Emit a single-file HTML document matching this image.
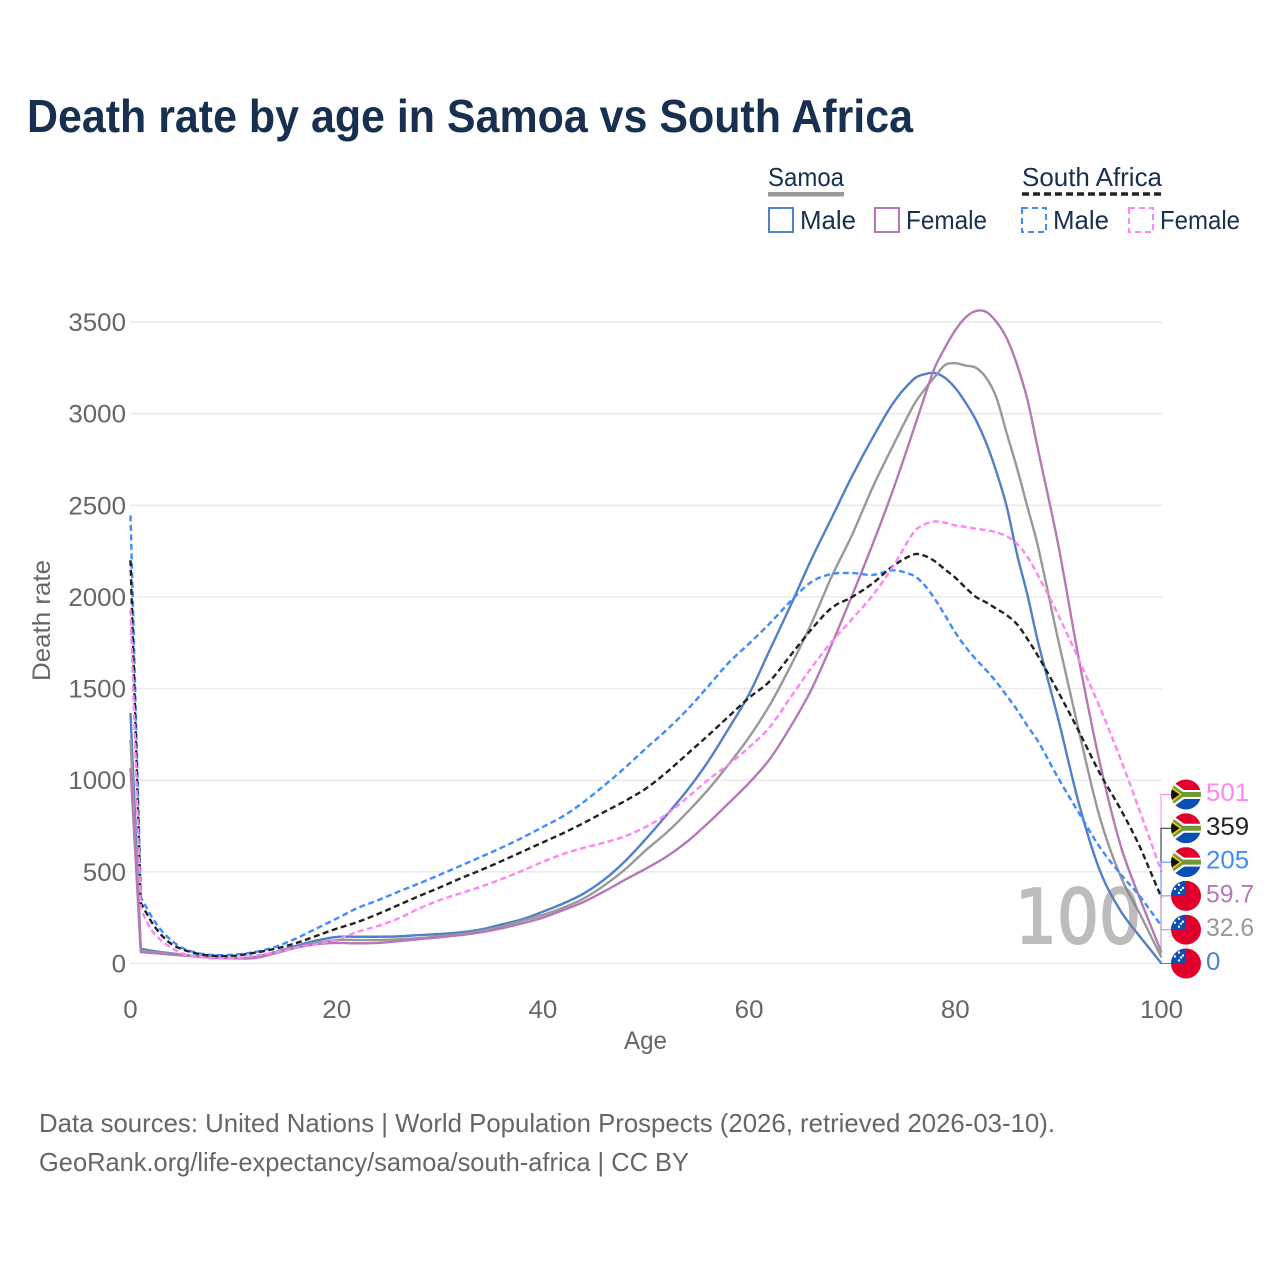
<!DOCTYPE html>
<html lang="en">
<head>
<meta charset="utf-8">
<title>Death rate by age in Samoa vs South Africa</title>
<style>
html,body{margin:0;padding:0;background:#fff;}
svg{display:block;font-family:"Liberation Sans",sans-serif;}
</style>
</head>
<body>
<svg id="chart" xmlns="http://www.w3.org/2000/svg" width="1280" height="1280" viewBox="0 0 1280 1280">
  <defs>
    <clipPath id="flag-clip"><circle cx="0" cy="0" r="15"/></clipPath>
  </defs>
  <rect width="1280" height="1280" fill="#fff"/>
  <text x="27" y="132" font-size="46" font-weight="700" fill="#17304f" textLength="886" lengthAdjust="spacingAndGlyphs">Death rate by age in Samoa vs South Africa</text>

  <g font-size="26" fill="#17304f">
    <text x="768" y="186" textLength="76" lengthAdjust="spacingAndGlyphs">Samoa</text>
    <rect x="768" y="192" width="76" height="4.5" fill="#999"/>
    <text x="1022" y="186" textLength="140" lengthAdjust="spacingAndGlyphs">South Africa</text>
    <line x1="1022" y1="194" x2="1162" y2="194" stroke="#222" stroke-width="3.5" stroke-dasharray="7 4"/>
    <rect x="769" y="208" width="24" height="24" fill="none" stroke="#5080c8" stroke-width="2"/>
    <text x="800" y="229" textLength="56" lengthAdjust="spacingAndGlyphs">Male</text>
    <rect x="875" y="208" width="24" height="24" fill="none" stroke="#b57ab5" stroke-width="2"/>
    <text x="906" y="229" textLength="81" lengthAdjust="spacingAndGlyphs">Female</text>
    <rect x="1022" y="208" width="24" height="24" fill="none" stroke="#3f8cff" stroke-width="2" stroke-dasharray="6 4"/>
    <text x="1053" y="229" textLength="56" lengthAdjust="spacingAndGlyphs">Male</text>
    <rect x="1129" y="208" width="24" height="24" fill="none" stroke="#ff85f5" stroke-width="2" stroke-dasharray="6 4"/>
    <text x="1160" y="229" textLength="80" lengthAdjust="spacingAndGlyphs">Female</text>
  </g>

  <g id="grid"></g>
  <g id="y-ticks"></g>
  <g id="x-ticks"></g>
  <text transform="translate(50,620.5) rotate(-90)" text-anchor="middle" font-size="25" fill="#666" textLength="121" lengthAdjust="spacingAndGlyphs">Death rate</text>
  <text x="645.5" y="1049" text-anchor="middle" font-size="25" fill="#666" textLength="43" lengthAdjust="spacingAndGlyphs">Age</text>

  <g id="series"></g>
  <g id="connectors"></g>
  <text x="1015" y="943" font-family="'DejaVu Sans',sans-serif" font-size="75" fill="#808080" stroke="#808080" stroke-width="2" opacity="0.52" textLength="126" lengthAdjust="spacingAndGlyphs">100</text>
  <g id="end-labels"></g>

  <g font-size="26" fill="#666">
    <text x="39" y="1132" textLength="1016" lengthAdjust="spacingAndGlyphs">Data sources: United Nations | World Population Prospects (2026, retrieved 2026-03-10).</text>
    <text x="39" y="1171" textLength="650" lengthAdjust="spacingAndGlyphs">GeoRank.org/life-expectancy/samoa/south-africa | CC BY</text>
  </g>
</svg>

<script>
const ages = [0,1,2,3,4,5,6,7,8,10,12,14,16,18,20,22,24,26,28,30,32,34,36,38,40,42,44,46,48,50,52,54,56,58,60,62,64,66,68,70,72,74,76,77,78,79,80,81,82,83,84,85,86,87,88,90,92,94,96,98,100];
const samoaMale = [1367,80,70,62,55,48,42,37,33,30,36,62,95,125,145,146,146,148,155,161,170,186,213,241,283,328,383,460,560,680,810,945,1100,1280,1470,1710,1950,2200,2430,2660,2870,3060,3190,3215,3222,3195,3140,3060,2965,2840,2680,2490,2230,2010,1760,1330,870,510,290,140,0];
const samoaBoth = [1220,70,63,58,52,46,40,36,32,29,33,58,88,112,128,128,128,132,138,148,160,178,201,233,265,305,356,428,515,619,714,825,947,1085,1235,1410,1620,1850,2110,2340,2600,2830,3050,3130,3200,3265,3275,3262,3250,3195,3085,2890,2700,2490,2280,1760,1265,800,480,260,32.6];
const samoaFemale = [1067,62,58,53,48,44,40,36,32,28,30,55,85,105,112,110,112,122,133,143,155,170,192,219,250,292,337,395,458,518,583,665,765,874,985,1115,1290,1490,1740,2010,2290,2590,2920,3090,3250,3360,3455,3525,3560,3555,3500,3410,3265,3075,2810,2280,1655,1100,650,340,59.7];
const southAfricaMale = [2445,360,260,180,125,85,65,52,46,48,62,90,135,190,245,302,345,392,437,484,533,582,632,686,745,805,883,974,1070,1174,1274,1385,1510,1640,1745,1855,1975,2080,2125,2130,2120,2145,2115,2065,1990,1900,1805,1727,1660,1600,1535,1460,1383,1295,1215,1010,820,636,490,360,205];
const southAfricaBoth = [2200,330,230,155,105,78,60,48,42,42,58,80,110,150,190,226,270,319,368,415,464,510,559,610,661,712,768,828,888,955,1043,1143,1243,1347,1450,1540,1680,1820,1940,2000,2075,2170,2232,2225,2195,2150,2105,2050,2000,1970,1935,1900,1850,1770,1680,1480,1265,1040,845,625,359];
const southAfricaFemale = [1930,292,185,125,85,55,40,33,28,30,42,60,85,105,130,172,205,246,300,346,383,419,461,506,555,598,632,660,695,746,814,905,1001,1085,1180,1290,1450,1610,1755,1880,2010,2170,2355,2395,2412,2405,2390,2382,2372,2365,2352,2330,2290,2218,2120,1900,1655,1400,1120,815,501];
const yTicks = [0,500,1000,1500,2000,2500,3000,3500];
const xTicks = [0,20,40,60,80,100];
const seriesNames = ['samoa-male','samoa-both','samoa-female','south-africa-male','south-africa-both','south-africa-female'];
const endLabelText = ['501','359','205','59.7','32.6','0'];
const endLabelSeries = ['southAfricaFemale','southAfricaBoth','southAfricaMale','samoaFemale','samoaBoth','samoaMale'];

const NS = 'http://www.w3.org/2000/svg';
const xScale = age => 130.5 + age * 10.31;
const yScale = v => 963.5 - v * 0.18329;
function make(tag, parent, props) {
  const el = document.createElementNS(NS, tag);
  for (const k in props) el.setAttribute(k, props[k]);
  parent.appendChild(el);
  return el;
}

const gridG = document.getElementById('grid');
const yTickG = document.getElementById('y-ticks');
yTicks.forEach(t => {
  const line = make('line', gridG, {x1:130, x2:1162, y1:yScale(t), y2:yScale(t), stroke:'#e9e9e9', 'stroke-width':1.5});
  
  
  const label = make('text', yTickG, {x:126, y:yScale(t)+9, 'text-anchor':'end', 'font-size':25, fill:'#666', textLength:String(t).length*14.4, lengthAdjust:'spacingAndGlyphs'});
  
  
  label.textContent = t;
});
const xTickG = document.getElementById('x-ticks');
xTicks.forEach(t => {
  const label = make('text', xTickG, {x:xScale(t), y:1018, 'text-anchor':'middle', 'font-size':25, fill:'#666', textLength:String(t).length*14.4, lengthAdjust:'spacingAndGlyphs'});
  
  
  label.textContent = t;
});

function linePath(values) {
  const p = values.map((v, i) => [xScale(ages[i]), yScale(v)]);
  const slope = i => (p[i+1][1] - p[i-1][1]) / (p[i+1][0] - p[i-1][0]);
  let d = 'M' + p[0][0] + ' ' + p[0][1];
  for (let i = 0; i < p.length - 1; i++) {
    if (i < 2 || i >= p.length - 2) { d += 'L' + p[i+1][0] + ' ' + p[i+1][1]; continue; }
    const b = p[i], c = p[i+1], dx = (c[0] - b[0]) / 3;
    d += 'C' + (b[0]+dx) + ' ' + (b[1]+slope(i)*dx) + ' ' + (c[0]-dx) + ' ' + (c[1]-slope(i+1)*dx) + ' ' + c[0] + ' ' + c[1];
  }
  return d;
}

const seriesValues = {samoaMale, samoaBoth, samoaFemale, southAfricaMale, southAfricaBoth, southAfricaFemale};
const seriesKeys = ['samoaMale','samoaBoth','samoaFemale','southAfricaMale','southAfricaBoth','southAfricaFemale'];
const seriesColors = {samoaMale:'#5080c8', samoaBoth:'#999999', samoaFemale:'#b57ab5', southAfricaMale:'#3f8cff', southAfricaBoth:'#222222', southAfricaFemale:'#ff85f5'};
const seriesG = document.getElementById('series');
seriesKeys.forEach((key, i) => {
  const dashed = key.indexOf('southAfrica') === 0;
  const path = make('path', seriesG, {d:linePath(seriesValues[key]), fill:'none', stroke:seriesColors[key], 'stroke-width':2.4, 'stroke-linejoin':'round'});
  if (dashed) path.setAttribute('stroke-dasharray', '6 3.5');
  
  
});

function drawSouthAfricaFlag(g) {
  const c = make('g', g, {'clip-path':'url(#flag-clip)'});
  make('rect', c, {x:-15, y:-15, width:30, height:15, fill:'#e0002b'});
  make('rect', c, {x:-15, y:0, width:30, height:15, fill:'#0a4fb5'});
  make('path', c, {d:'M-15 -14L-2 -4.5H15V4.5H-2L-15 14Z', fill:'#fff'});
  make('path', c, {d:'M-15 -11L-3 -2.5H15V2.5H-3L-15 11Z', fill:'#6d9a34'});
  make('path', c, {d:'M-15 -8.5L-4 0L-15 8.5Z', fill:'#f5c518'});
  make('path', c, {d:'M-15 -6L-6.5 0L-15 6Z', fill:'#111'});
}
function drawSamoaFlag(g) {
  const c = make('g', g, {'clip-path':'url(#flag-clip)'});
  make('rect', c, {x:-15, y:-15, width:30, height:30, fill:'#e0002b'});
  make('rect', c, {x:-15, y:-15, width:15, height:15, fill:'#0a4fb5'});
  [[-7,-11],[-11,-7],[-3,-8],[-7,-3],[-5,-6]].forEach(s => make('circle', c, {cx:s[0], cy:s[1], r:1.2, fill:'#fff'}));
}

const connG = document.getElementById('connectors');
const endG = document.getElementById('end-labels');
endLabelText.forEach((txt, i) => {
  const key = endLabelSeries[i];
  const values = seriesValues[key];
  const labelY = 794.5 + i * 33.8;
  const conn = make('path', connG, {d:'M1161 ' + yScale(values[values.length-1]) + 'V' + labelY + 'H1172', fill:'none', stroke:seriesColors[key], 'stroke-width':1});
  
  
  const flag = make('g', endG, {transform:'translate(1186,' + labelY + ')'});
  
  
  if (key.indexOf('samoa') === 0) drawSamoaFlag(flag); else drawSouthAfricaFlag(flag);
  const label = make('text', endG, {x:1206, y:labelY+6.5, 'font-size':25, fill:seriesColors[key], textLength:txt.replace('.','').length*14.4 + (txt.indexOf('.')>=0?5:0), lengthAdjust:'spacingAndGlyphs'});
  
  
  label.textContent = txt;
});
</script>
</body>
</html>
